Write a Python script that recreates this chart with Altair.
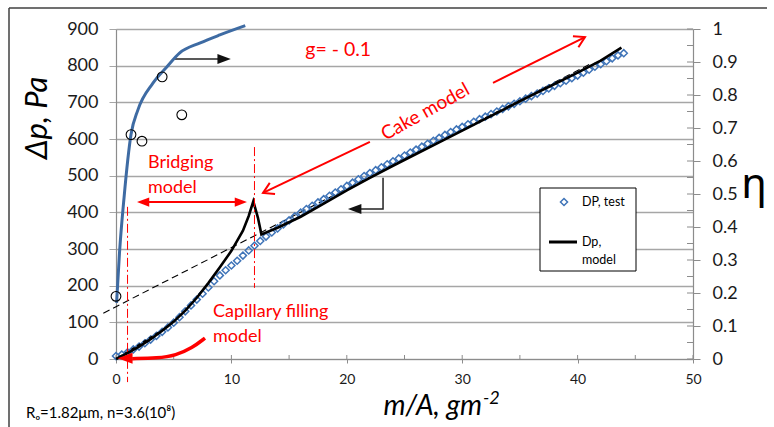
import math
import altair as alt
import pandas as pd

# plot area (px) and scale domains
W, H = 577, 330
X_DOMAIN = [0, 50]
PA_DOMAIN = [0, 900]
ETA_DOMAIN = [0, 1]
PX_PER_X = W / (X_DOMAIN[1] - X_DOMAIN[0])
PX_PER_PA = H / (PA_DOMAIN[1] - PA_DOMAIN[0])

FONT = "Lato"
RED = "#ff0000"
GRID = "#a6a6a6"
AXIS_GRAY = "#8c8c8c"
BLUE_PTS = "#3f74b8"
BLUE_LINE = "#3e6ba3"
INK = "#1a1a1a"

# ---- pressure drop, test (m/A in g/m^2, dp in Pa) ----
dp_test_x = [0, 0.5, 1, 1.5, 2, 2.5, 3, 3.5, 4, 4.5, 5, 5.5, 6, 6.5, 7, 7.5, 8, 8.5,
             9, 9.5, 10, 10.5, 11, 11.5, 12, 12.5, 13, 13.5, 14, 14.5, 15, 15.5,
             16, 16.5, 17, 17.5, 18, 18.5, 19, 19.5, 20, 20.5, 21, 21.5, 22, 22.5,
             23, 23.5, 24, 24.5, 25, 25.5, 26, 26.5, 27, 27.5, 28, 28.5, 29, 29.5,
             30, 30.5, 31, 31.5, 32, 32.5, 33, 33.5, 34, 34.5, 35, 35.5, 36, 36.5,
             37, 37.5, 38, 38.5, 39, 39.5, 40, 40.5, 41, 41.5, 42, 42.5, 43, 43.5, 44]
dp_test_pa = [8, 12, 18, 26, 34, 43, 53, 63, 74, 86, 99, 114, 130, 146, 162, 178, 195, 212,
              228, 242, 255, 268, 282, 296, 309, 322, 334, 345, 356, 367, 378, 389,
              399, 409, 418, 427, 436, 445, 454, 463, 472, 481, 490, 499, 507, 515,
              523, 531, 539, 547, 555, 563, 571, 579, 587, 595, 603, 611, 619, 626,
              633, 640, 647, 654, 661, 668, 675, 682, 689, 696, 703, 710, 717, 724,
              731, 738, 745, 752, 759, 766, 773, 781, 789, 797, 804, 812, 820, 828, 834]

# ---- pressure drop, model ----
dp_model_x = [0, 1, 2, 3, 4, 5, 6, 7, 8, 9, 10, 11, 11.5, 11.9, 12.3, 12.6, 14, 16, 18,
              20, 22, 24, 26, 28, 30, 32, 34, 36, 38, 40, 42, 43.8]
dp_model_pa = [0, 16, 34, 54, 77, 102, 132, 167, 207, 250, 295, 350, 390, 430, 385, 340,
               358, 388, 424, 460, 494, 527, 559, 591, 623, 655, 687, 719, 750, 781, 814, 849]

# straight cake-filtration asymptote and early capillary-filling segment
cake_line_x = [-1.1, 41.0]
cake_line_pa = [125, 803]
cap_line_x = [0.3, 4.5]
cap_line_pa = [5, 88]

# ---- collection efficiency (right axis) ----
eta_curve_x = [0.05, 0.3, 0.7, 1.3, 1.9, 3.2, 4.4, 5.5, 7.3, 9.0, 11.2]
eta_curve = [0.17, 0.32, 0.49, 0.68, 0.755, 0.836, 0.885, 0.927, 0.958, 0.982, 1.01]
eta_test_x = [0.0, 1.3, 2.25, 4.0, 5.7]
eta_test = [0.19, 0.68, 0.66, 0.855, 0.74]

# ---- tick values ----
x_ticks = [0, 10, 20, 30, 40, 50]
x_minor = [0, 5, 10, 15, 20, 25, 30, 35, 40, 45, 50]
pa_ticks = [0, 100, 200, 300, 400, 500, 600, 700, 800, 900]
eta_ticks = [0, 0.1, 0.2, 0.3, 0.4, 0.5, 0.6, 0.7, 0.8, 0.9, 1]
eta_minor = [0, 0.05, 0.1, 0.15, 0.2, 0.25, 0.3, 0.35, 0.4, 0.45, 0.5, 0.55,
             0.6, 0.65, 0.7, 0.75, 0.8, 0.85, 0.9, 0.95, 1]

# ---- annotation anchors (data coordinates) ----
zone_x = [1.0, 12.0]
zone_top = [415, 578]
zone_bottom = [-63, 194]


def heading(dx, dpa):
    """Screen angle (deg, clockwise) of a direction given in data units."""
    return math.degrees(math.atan2(-dpa * PX_PER_PA, dx * PX_PER_X)) % 360


x_axis = alt.Axis(values=x_ticks, title=None, grid=False, tickSize=4, tickColor=AXIS_GRAY,
                  domainColor=AXIS_GRAY, domainWidth=1.2, labelFontSize=14, labelPadding=9,
                  labelColor=INK, labelFont=FONT, labelFlush=False)
pa_axis = alt.Axis(values=pa_ticks, title=None, grid=True, gridColor=GRID, gridWidth=1.4,
                   tickSize=7, tickColor=GRID, domainColor=AXIS_GRAY, domainWidth=1.2,
                   labelFontSize=18, labelPadding=11, labelColor=INK, labelFont=FONT,
                   labelFlush=False)
eta_axis = alt.Axis(values=eta_ticks, orient="right", format="~g", title=None, grid=False,
                    tickSize=7, tickColor=AXIS_GRAY, domainColor=AXIS_GRAY, domainWidth=1.2,
                    labelFontSize=18, labelPadding=12, labelColor=INK, labelFont=FONT,
                    labelFlush=False)

X = alt.X("x:Q", scale=alt.Scale(domain=X_DOMAIN, nice=False, zero=False), axis=x_axis)
X2 = alt.X2("x2:Q")
PA = alt.Y("pa:Q", scale=alt.Scale(domain=PA_DOMAIN, nice=False, zero=False), axis=pa_axis)
PA2 = alt.Y2("pa2:Q")
ETA = alt.Y("eta:Q", scale=alt.Scale(domain=ETA_DOMAIN, nice=False, zero=False), axis=eta_axis)

TRI = "M0,0L-2,-0.75L-2,0.75Z"        # filled arrow head, tip at the anchor
OPEN_HEAD = "M-1.7,-1L0,0L-1.7,1"     # open arrow head, tip at the anchor

# ---------------- left (pressure) layers ----------------
x_minor_ticks = alt.Chart(pd.DataFrame({"x": x_minor})).mark_rule(
    color=AXIS_GRAY, strokeWidth=1).encode(x=X, y=alt.value(H - 4), y2=alt.value(H))

cake_dash = alt.Chart(pd.DataFrame({"x": cake_line_x, "pa": cake_line_pa})).mark_line(
    color="black", strokeWidth=1.1, strokeDash=[7, 4]).encode(x=X, y=PA)

test_pts = alt.Chart(pd.DataFrame({"x": dp_test_x, "pa": dp_test_pa})).mark_point(
    shape="diamond", filled=False, color=BLUE_PTS, size=50, strokeWidth=1.5, opacity=1
).encode(x=X, y=PA)

model_line = alt.Chart(pd.DataFrame({"x": dp_model_x, "pa": dp_model_pa})).mark_line(
    color="black", strokeWidth=2.6).encode(x=X, y=PA)

cap_dash = alt.Chart(pd.DataFrame({"x": cap_line_x, "pa": cap_line_pa})).mark_line(
    color="black", strokeWidth=2, strokeDash=[4, 3]).encode(x=X, y=PA)

zones = alt.Chart(pd.DataFrame({"x": zone_x, "pa": zone_top, "pa2": zone_bottom})).mark_rule(
    color=RED, strokeWidth=1, strokeDash=[9, 3, 2, 3]).encode(x=X, y=PA, y2=PA2)

red_segments = alt.Chart(pd.DataFrame({
    "x": [22.0, 32.67, 2.8],
    "pa": [592, 753, 428],
    "x2": [12.74, 40.64, 10.4],
    "pa2": [453, 878, 428],
})).mark_rule(color=RED, strokeWidth=2).encode(x=X, x2=X2, y=PA, y2=PA2)

red_open_heads = alt.Chart(pd.DataFrame({
    "x": [12.74, 40.64],
    "pa": [453, 878],
    "angle": [heading(12.74 - 22.0, 453 - 592), heading(40.64 - 32.67, 878 - 753)],
})).mark_point(shape=OPEN_HEAD, filled=False, color=RED, strokeWidth=2, size=150,
               opacity=1).encode(x=X, y=PA, angle=alt.Angle("angle:Q", scale=None))

red_solid_heads = alt.Chart(pd.DataFrame({
    "x": [1.82, 11.35],
    "pa": [428, 428],
    "angle": [180, 0],
})).mark_point(shape=TRI, filled=True, color=RED, size=150, opacity=1).encode(
    x=X, y=PA, angle=alt.Angle("angle:Q", scale=None))

cap_curve = alt.Chart(pd.DataFrame({
    "x": [7.71, 6.6, 5.2, 3.6, 1.4],
    "pa": [57, 30, 10, 2, 1],
    "i": [0, 1, 2, 3, 4],
})).mark_line(color=RED, strokeWidth=3.5, interpolate="basis").encode(
    x=X, y=PA, order="i:Q")

cap_head = alt.Chart(pd.DataFrame({"x": [0.15], "pa": [2], "angle": [180]})).mark_point(
    shape=TRI, filled=True, color=RED, size=220, opacity=1).encode(
    x=X, y=PA, angle=alt.Angle("angle:Q", scale=None))

black_paths = alt.Chart(pd.DataFrame({
    "x": [5.11, 8.9, 23.14, 23.14, 21.0],
    "pa": [818, 818, 494, 409, 409],
    "grp": ["eta", "eta", "dp", "dp", "dp"],
    "i": [0, 1, 0, 1, 2],
})).mark_line(color="#222222", strokeWidth=1.5).encode(
    x=X, y=PA, detail="grp:N", order="i:Q")

black_heads = alt.Chart(pd.DataFrame({
    "x": [9.95, 20.1],
    "pa": [818, 409],
    "angle": [0, 180],
})).mark_point(shape=TRI, filled=True, color="#111111", size=180, opacity=1).encode(
    x=X, y=PA, angle=alt.Angle("angle:Q", scale=None))

red_labels = alt.Chart(pd.DataFrame({
    "x": [2.77, 2.77, 8.4, 8.4],
    "pa": [535, 466, 128, 60],
    "label": ["Bridging", "model", "Capillary filling", "model"],
})).mark_text(color=RED, font=FONT, fontSize=18, align="left", baseline="middle").encode(
    x=X, y=PA, text="label:N")

g_label = alt.Chart(pd.DataFrame({"x": [16.4], "pa": [843], "label": ["g= - 0.1"]})).mark_text(
    color=RED, font=FONT, fontSize=19.5, align="left", baseline="middle").encode(
    x=X, y=PA, text="label:N")

cake_label = alt.Chart(pd.DataFrame({"x": [26.8], "pa": [674], "label": ["Cake model"]})).mark_text(
    color=RED, font=FONT, fontSize=19, align="center", baseline="middle", angle=331
).encode(x=X, y=PA, text="label:N")

left = alt.layer(x_minor_ticks, cake_dash, test_pts, model_line, cap_dash, zones,
                 red_segments, red_open_heads, red_solid_heads, cap_curve, cap_head,
                 black_paths, black_heads, red_labels, g_label, cake_label)

# ---------------- right (efficiency) layers ----------------
eta_minor_ticks = alt.Chart(pd.DataFrame({"eta": eta_minor})).mark_rule(
    color=AXIS_GRAY, strokeWidth=1).encode(y=ETA, x=alt.value(W - 6), x2=alt.value(W))

eta_line = alt.Chart(pd.DataFrame({"x": eta_curve_x, "eta": eta_curve})).mark_line(
    color=BLUE_LINE, strokeWidth=3, interpolate="monotone").encode(x=X, y=ETA)

eta_pts = alt.Chart(pd.DataFrame({"x": eta_test_x, "eta": eta_test})).mark_point(
    shape="circle", filled=False, color="black", size=95, strokeWidth=1.1, opacity=1
).encode(x=X, y=ETA)

right = alt.layer(eta_minor_ticks, eta_line, eta_pts)

# ---------------- titles, legend, frame (pixel placed) ----------------
one = pd.DataFrame({"k": [0]})

y_title = alt.Chart(one).mark_text(
    text="Δp, Pa", angle=270, font=FONT, fontSize=31, fontStyle="italic", color="black",
    align="center", baseline="middle").encode(x=alt.value(-78), y=alt.value(89))

x_title = alt.Chart(one).mark_text(
    text="m/A, gm", font=FONT, fontSize=28, fontStyle="italic", color="black",
    align="right", baseline="alphabetic").encode(x=alt.value(366), y=alt.value(386))

x_title_sup = alt.Chart(one).mark_text(
    text="-2", font=FONT, fontSize=18, fontStyle="italic", color="black",
    align="left", baseline="middle").encode(x=alt.value(367), y=alt.value(370))

eta_title = alt.Chart(one).mark_text(
    text="η", font="Noto Sans", fontSize=42, color="black",
    align="center", baseline="middle").encode(x=alt.value(638), y=alt.value(156))

footnote = alt.Chart(one).mark_text(
    text="Rₒ=1.82μm, n=3.6(10⁸)", font=FONT, fontSize=15, color="black",
    align="left", baseline="middle").encode(x=alt.value(-90), y=alt.value(384))

legend_box = alt.Chart(one).mark_rect(fill="white", stroke="black", strokeWidth=1).encode(
    x=alt.value(424), x2=alt.value(520), y=alt.value(159), y2=alt.value(242))

legend_diamond = alt.Chart(one).mark_point(
    shape="diamond", filled=False, color=BLUE_PTS, size=50, strokeWidth=1.5, opacity=1
).encode(x=alt.value(448), y=alt.value(173))

legend_line = alt.Chart(one).mark_rule(color="black", strokeWidth=3).encode(
    x=alt.value(433), x2=alt.value(461), y=alt.value(213))

legend_text = alt.Chart(pd.DataFrame({
    "t": ["DP, test", "Dp,", "model"],
    "py": [173, 213, 231],
})).mark_text(font=FONT, fontSize=12.5, color="black", align="left", baseline="middle").encode(
    x=alt.value(466), y=alt.Y("py:Q", scale=None), text="t:N")

frame_left = alt.Chart(one).mark_rule(color="#404040", strokeWidth=1.5).encode(
    x=alt.value(-107), y=alt.value(-21), y2=alt.value(398))
frame_top = alt.Chart(one).mark_rule(color="#404040", strokeWidth=1.5).encode(
    x=alt.value(-107), x2=alt.value(651), y=alt.value(-21))

chart = alt.layer(
    left, right, y_title, x_title, x_title_sup, eta_title, footnote,
    legend_box, legend_diamond, legend_line, legend_text, frame_left, frame_top
).resolve_scale(y="independent").properties(
    width=W, height=H,
    autosize=alt.AutoSizeParams(type="none"),
    padding={"left": 116, "top": 29, "right": 81, "bottom": 68},
    background="white",
).configure_view(stroke=None)

chart.save("out.html", embed_options={"renderer": "svg", "actions": False})
